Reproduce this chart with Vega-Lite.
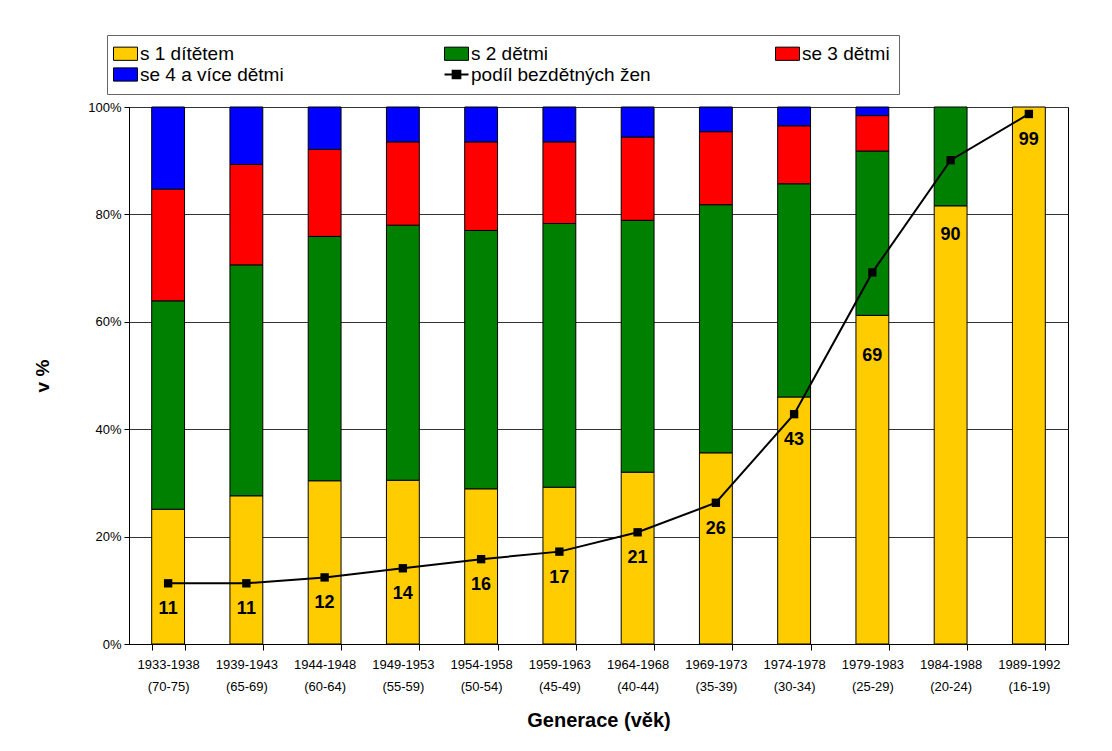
{
  "$schema": "https://vega.github.io/schema/vega-lite/v6.json",
  "width": 939,
  "height": 537,
  "autosize": {"type": "none"},
  "padding": {"left": 129, "top": 107, "right": 44, "bottom": 107},
  "background": "white",
  "config": {"font": "Liberation Sans", "view": {"stroke": "black", "strokeWidth": 1}},
  "datasets": {
    "bars": [
      {"g": "1933-1938 (70-75)", "t": "s 1 dítětem", "i": 1, "v": 25.1},
      {"g": "1933-1938 (70-75)", "t": "s 2 dětmi", "i": 2, "v": 38.8},
      {"g": "1933-1938 (70-75)", "t": "se 3 dětmi", "i": 3, "v": 20.8},
      {"g": "1933-1938 (70-75)", "t": "se 4 a více dětmi", "i": 4, "v": 15.3},
      {"g": "1939-1943 (65-69)", "t": "s 1 dítětem", "i": 1, "v": 27.6},
      {"g": "1939-1943 (65-69)", "t": "s 2 dětmi", "i": 2, "v": 43.0},
      {"g": "1939-1943 (65-69)", "t": "se 3 dětmi", "i": 3, "v": 18.7},
      {"g": "1939-1943 (65-69)", "t": "se 4 a více dětmi", "i": 4, "v": 10.7},
      {"g": "1944-1948 (60-64)", "t": "s 1 dítětem", "i": 1, "v": 30.4},
      {"g": "1944-1948 (60-64)", "t": "s 2 dětmi", "i": 2, "v": 45.5},
      {"g": "1944-1948 (60-64)", "t": "se 3 dětmi", "i": 3, "v": 16.2},
      {"g": "1944-1948 (60-64)", "t": "se 4 a více dětmi", "i": 4, "v": 7.9},
      {"g": "1949-1953 (55-59)", "t": "s 1 dítětem", "i": 1, "v": 30.5},
      {"g": "1949-1953 (55-59)", "t": "s 2 dětmi", "i": 2, "v": 47.5},
      {"g": "1949-1953 (55-59)", "t": "se 3 dětmi", "i": 3, "v": 15.5},
      {"g": "1949-1953 (55-59)", "t": "se 4 a více dětmi", "i": 4, "v": 6.5},
      {"g": "1954-1958 (50-54)", "t": "s 1 dítětem", "i": 1, "v": 28.9},
      {"g": "1954-1958 (50-54)", "t": "s 2 dětmi", "i": 2, "v": 48.1},
      {"g": "1954-1958 (50-54)", "t": "se 3 dětmi", "i": 3, "v": 16.5},
      {"g": "1954-1958 (50-54)", "t": "se 4 a více dětmi", "i": 4, "v": 6.5},
      {"g": "1959-1963 (45-49)", "t": "s 1 dítětem", "i": 1, "v": 29.2},
      {"g": "1959-1963 (45-49)", "t": "s 2 dětmi", "i": 2, "v": 49.1},
      {"g": "1959-1963 (45-49)", "t": "se 3 dětmi", "i": 3, "v": 15.2},
      {"g": "1959-1963 (45-49)", "t": "se 4 a více dětmi", "i": 4, "v": 6.5},
      {"g": "1964-1968 (40-44)", "t": "s 1 dítětem", "i": 1, "v": 32.0},
      {"g": "1964-1968 (40-44)", "t": "s 2 dětmi", "i": 2, "v": 46.9},
      {"g": "1964-1968 (40-44)", "t": "se 3 dětmi", "i": 3, "v": 15.5},
      {"g": "1964-1968 (40-44)", "t": "se 4 a více dětmi", "i": 4, "v": 5.6},
      {"g": "1969-1973 (35-39)", "t": "s 1 dítětem", "i": 1, "v": 35.6},
      {"g": "1969-1973 (35-39)", "t": "s 2 dětmi", "i": 2, "v": 46.2},
      {"g": "1969-1973 (35-39)", "t": "se 3 dětmi", "i": 3, "v": 13.6},
      {"g": "1969-1973 (35-39)", "t": "se 4 a více dětmi", "i": 4, "v": 4.6},
      {"g": "1974-1978 (30-34)", "t": "s 1 dítětem", "i": 1, "v": 46.0},
      {"g": "1974-1978 (30-34)", "t": "s 2 dětmi", "i": 2, "v": 39.7},
      {"g": "1974-1978 (30-34)", "t": "se 3 dětmi", "i": 3, "v": 10.8},
      {"g": "1974-1978 (30-34)", "t": "se 4 a více dětmi", "i": 4, "v": 3.5},
      {"g": "1979-1983 (25-29)", "t": "s 1 dítětem", "i": 1, "v": 61.2},
      {"g": "1979-1983 (25-29)", "t": "s 2 dětmi", "i": 2, "v": 30.6},
      {"g": "1979-1983 (25-29)", "t": "se 3 dětmi", "i": 3, "v": 6.6},
      {"g": "1979-1983 (25-29)", "t": "se 4 a více dětmi", "i": 4, "v": 1.6},
      {"g": "1984-1988 (20-24)", "t": "s 1 dítětem", "i": 1, "v": 81.6},
      {"g": "1984-1988 (20-24)", "t": "s 2 dětmi", "i": 2, "v": 18.4},
      {"g": "1989-1992 (16-19)", "t": "s 1 dítětem", "i": 1, "v": 100}
    ],
    "line": [
      {"g": "1933-1938 (70-75)", "p": 11.3},
      {"g": "1939-1943 (65-69)", "p": 11.3},
      {"g": "1944-1948 (60-64)", "p": 12.4},
      {"g": "1949-1953 (55-59)", "p": 14.1},
      {"g": "1954-1958 (50-54)", "p": 15.8},
      {"g": "1959-1963 (45-49)", "p": 17.2},
      {"g": "1964-1968 (40-44)", "p": 20.8},
      {"g": "1969-1973 (35-39)", "p": 26.3},
      {"g": "1974-1978 (30-34)", "p": 42.8},
      {"g": "1979-1983 (25-29)", "p": 69.2},
      {"g": "1984-1988 (20-24)", "p": 90.1},
      {"g": "1989-1992 (16-19)", "p": 98.7}
    ]
  },
  "layer": [
    {
      "data": {"name": "bars"},
      "mark": {"type": "bar", "stroke": "black", "strokeWidth": 1},
      "encoding": {
        "x": {
          "field": "g", "type": "nominal", "sort": null,
          "scale": {"paddingInner": 0.58, "paddingOuter": 0.29},
          "title": "Generace (věk)",
          "axis": {
            "labelExpr": "split(datum.label, ' ')",
            "labelAngle": 0, "labelFontSize": 13, "labelLineHeight": 22, "labelColor": "black",
            "labelPadding": 8, "tickBand": "extent", "tickSize": 6, "tickColor": "black",
            "domainColor": "black", "grid": false,
            "titleFontSize": 20, "titleFontWeight": "bold", "titleColor": "black", "titlePadding": 17
          }
        },
        "y": {
          "field": "v", "type": "quantitative", "stack": "zero",
          "scale": {"domain": [0, 100], "nice": false},
          "title": "v %",
          "axis": {
            "values": [0, 20, 40, 60, 80, 100],
            "labelExpr": "datum.value + '%'",
            "labelFontSize": 13, "labelColor": "black", "labelPadding": 3,
            "tickSize": 5, "tickColor": "black", "domainColor": "black",
            "grid": true, "gridColor": "#333333", "gridWidth": 1,
            "titleFontSize": 19, "titleFontWeight": "bold", "titleColor": "black", "titlePadding": 35
          }
        },
        "color": {
          "field": "t", "type": "nominal",
          "scale": {
            "domain": ["s 1 dítětem", "s 2 dětmi", "se 3 dětmi", "se 4 a více dětmi", "podíl bezdětných žen"],
            "range": ["#FFCC00", "#008000", "#FF0000", "#0000FF", "#000000"]
          },
          "legend": {
            "orient": "none", "legendX": -22, "legendY": -72,
            "direction": "horizontal",
            "columns": 3, "gridAlign": "all", "title": null,
            "labelFontSize": 19, "labelColor": "black", "labelOffset": 5, "labelLimit": 400,
            "symbolSize": 576, "symbolType": "M-1,-0.55H1V0.55H-1Z",
            "symbolStrokeColor": "black", "symbolStrokeWidth": 1, "symbolOpacity": 1,
            "columnPadding": 120, "rowPadding": 1, "padding": 9,
            "strokeColor": "#666666", "fillColor": "white",
            "encode": {
              "symbols": {
                "update": {
                  "shape": {"signal": "datum.value === 'podíl bezdětných žen' ? 'M-1,0H1M-0.32,-0.32H0.32V0.32H-0.32Z' : 'M-1,-0.55H1V0.55H-1Z'"},
                  "strokeWidth": {"signal": "datum.value === 'podíl bezdětných žen' ? 2 : 1"}
                }
              }
            }
          }
        },
        "order": {"field": "i", "type": "quantitative"}
      }
    },
    {
      "data": {"name": "line"},
      "mark": {"type": "line", "color": "black", "strokeWidth": 2, "interpolate": "linear"},
      "encoding": {
        "x": {"field": "g", "type": "nominal", "sort": null},
        "y": {"field": "p", "type": "quantitative"}
      }
    },
    {
      "data": {"name": "line"},
      "mark": {"type": "point", "shape": "square", "filled": true, "color": "black", "size": 70, "opacity": 1},
      "encoding": {
        "x": {"field": "g", "type": "nominal", "sort": null},
        "y": {"field": "p", "type": "quantitative"}
      }
    },
    {
      "data": {"name": "line"},
      "transform": [{"filter": "datum.p < 60 || datum.p > 95"}],
      "mark": {"type": "text", "fontWeight": "bold", "fontSize": 18, "dy": 26, "color": "black", "baseline": "middle"},
      "encoding": {
        "x": {"field": "g", "type": "nominal", "sort": null},
        "y": {"field": "p", "type": "quantitative"},
        "text": {"field": "p", "type": "quantitative", "format": ".0f"}
      }
    },
    {
      "data": {"name": "line"},
      "transform": [{"filter": "datum.p > 60 && datum.p < 80"}],
      "mark": {"type": "text", "fontWeight": "bold", "fontSize": 18, "dy": 84, "color": "black", "baseline": "middle"},
      "encoding": {
        "x": {"field": "g", "type": "nominal", "sort": null},
        "y": {"field": "p", "type": "quantitative"},
        "text": {"field": "p", "type": "quantitative", "format": ".0f"}
      }
    },
    {
      "data": {"name": "line"},
      "transform": [{"filter": "datum.p > 80 && datum.p < 95"}],
      "mark": {"type": "text", "fontWeight": "bold", "fontSize": 18, "dy": 75, "color": "black", "baseline": "middle"},
      "encoding": {
        "x": {"field": "g", "type": "nominal", "sort": null},
        "y": {"field": "p", "type": "quantitative"},
        "text": {"field": "p", "type": "quantitative", "format": ".0f"}
      }
    }
  ]
}
